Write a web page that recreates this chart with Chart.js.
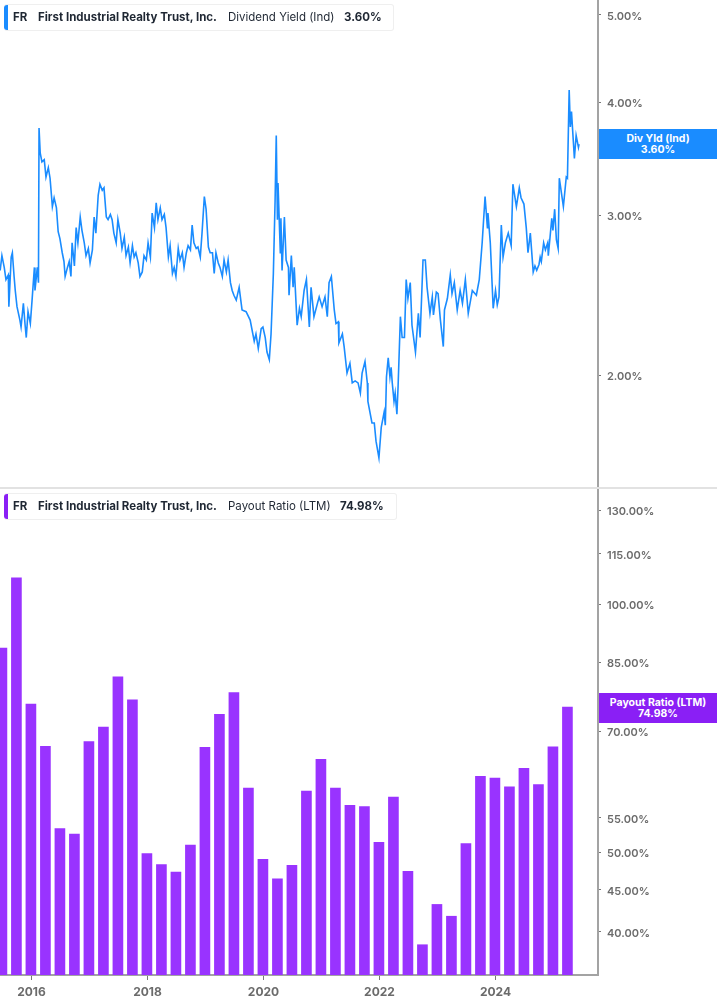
<!DOCTYPE html>
<html>
<head>
<meta charset="utf-8">
<title>FR Dividend Yield and Payout Ratio</title>
<script src="https://cdn.jsdelivr.net/npm/chart.js@4"></script>
<style>
html, body { margin: 0; padding: 0; background: #fff; }
body { width: 717px; height: 1005px; position: relative; overflow: hidden; font-family: Inter, "Noto Sans", sans-serif; }
canvas { position: absolute; left: 0; }
#divCanvas { top: 0; }
#payCanvas { top: 489px; }
#divider { position: absolute; left: 0; top: 487px; width: 717px; height: 2px; background: #e2e2e2; }
.chip { position: absolute; left: 4px; height: 25px; background: #fff; border: 1px solid #efefef; border-left: 0; border-radius: 3px; font-size: 11.5px; line-height: 25px; color: #1f2733; }
.chip i { position: absolute; left: 0; top: 0; width: 4px; height: 25px; border-radius: 3px 0 0 3px; }
.chip span { position: absolute; top: 0; white-space: nowrap; }
.chip b { font-weight: 700; }
.flag { position: absolute; left: 599px; width: 118px; height: 30px; color: #fff; font-size: 10.5px; font-weight: 700; line-height: 11.5px; text-align: center; padding-top: 3.5px; box-sizing: border-box; }
</style>
</head>
<body>
<canvas id="divCanvas" width="717" height="487"></canvas>
<div id="divider"></div>
<canvas id="payCanvas" width="717" height="516"></canvas>

<div class="chip" style="top:4px;width:389px"><i style="background:#1a8cff"></i>
  <span style="left:9px"><b>FR</b></span>
  <span style="left:34px"><b>First Industrial Realty Trust, Inc.</b></span>
  <span style="left:224px">Dividend Yield (Ind)</span>
  <span style="left:340px"><b>3.60%</b></span>
</div>
<div class="chip" style="top:493px;width:392px"><i style="background:#8a1ff5"></i>
  <span style="left:9px"><b>FR</b></span>
  <span style="left:34px"><b>First Industrial Realty Trust, Inc.</b></span>
  <span style="left:224px">Payout Ratio (LTM)</span>
  <span style="left:336px"><b>74.98%</b></span>
</div>
<div class="flag" style="top:129px;background:#1a8cff">Div Yld (Ind)<br>3.60%</div>
<div class="flag" style="top:693px;background:#8a1ff5">Payout Ratio (LTM)<br>74.98%</div>

<script>
// Dividend yield readings (decimal year, percent)
const yieldDates = [
  2015.46,2015.49,2015.53,2015.56,2015.60,2015.61,2015.65,2015.67,2015.70,2015.72,2015.75,2015.80,2015.82,2015.86,2015.89,2015.91,2015.94,2015.98,
  2016.01,2016.05,2016.06,2016.10,2016.12,2016.13,2016.15,2016.18,2016.22,2016.25,2016.29,2016.32,2016.36,2016.39,2016.43,2016.46,2016.49,2016.53,2016.56,2016.58,2016.62,2016.65,2016.68,2016.70,2016.74,2016.77,2016.80,2016.84,2016.87,2016.91,2016.94,2016.98,
  2017.01,2017.05,2017.08,2017.11,2017.15,2017.18,2017.22,2017.25,2017.29,2017.32,2017.36,2017.39,2017.42,2017.46,2017.49,2017.53,2017.56,2017.60,2017.63,2017.67,2017.70,2017.74,2017.77,2017.80,2017.84,2017.87,2017.91,2017.94,2017.98,
  2018.01,2018.05,2018.08,2018.12,2018.15,2018.18,2018.22,2018.25,2018.29,2018.32,2018.36,2018.39,2018.43,2018.46,2018.49,2018.53,2018.56,2018.60,2018.63,2018.67,2018.70,2018.74,2018.77,2018.80,2018.84,2018.87,2018.91,2018.94,2018.98,
  2019.01,2019.05,2019.08,2019.12,2019.15,2019.18,2019.22,2019.25,2019.29,2019.32,2019.36,2019.39,2019.43,2019.46,2019.49,2019.53,2019.58,2019.63,2019.70,2019.77,2019.84,2019.87,2019.91,2019.96,2019.99,
  2020.03,2020.06,2020.10,2020.13,2020.17,2020.20,2020.22,2020.24,2020.25,2020.29,2020.30,2020.32,2020.36,2020.39,2020.43,2020.44,2020.48,2020.51,2020.53,2020.58,2020.62,2020.65,2020.70,2020.74,2020.79,2020.82,2020.87,2020.93,2020.96,
  2021.01,2021.06,2021.10,2021.13,2021.17,2021.22,2021.25,2021.29,2021.30,2021.36,2021.39,2021.44,2021.49,2021.53,2021.58,2021.63,2021.67,2021.70,2021.75,2021.79,2021.80,2021.87,2021.91,2021.94,2021.99,
  2022.03,2022.08,2022.10,2022.12,2022.15,2022.18,2022.20,2022.22,2022.25,2022.27,2022.30,2022.32,2022.36,2022.39,2022.43,2022.46,2022.49,2022.53,2022.56,2022.62,2022.67,2022.70,2022.75,2022.79,2022.82,2022.87,2022.91,2022.93,2022.98,
  2023.01,2023.05,2023.10,2023.12,2023.17,2023.22,2023.25,2023.29,2023.34,2023.39,2023.43,2023.48,2023.53,2023.60,2023.67,2023.72,2023.77,2023.82,2023.86,2023.87,2023.91,2023.96,
  2024.00,2024.03,2024.06,2024.10,2024.13,2024.17,2024.22,2024.27,2024.30,2024.36,2024.41,2024.44,2024.49,2024.53,2024.56,2024.60,2024.65,2024.68,2024.71,2024.75,2024.77,2024.79,2024.83,2024.86,2024.90,2024.91,2024.94,2024.97,2024.99,
  2025.02,2025.05,2025.08,2025.10,2025.17,2025.22,2025.24,2025.27,2025.29,2025.31,2025.34,2025.36,2025.39,2025.43,2025.44
];
const yieldValues = [
  2.61,2.71,2.63,2.55,2.58,2.38,2.70,2.73,2.57,2.48,2.38,2.30,2.26,2.40,2.27,2.20,2.35,2.28,
  2.42,2.63,2.48,2.63,2.53,3.75,3.52,3.44,3.46,3.31,3.39,3.30,3.07,3.14,3.06,2.88,2.83,2.73,2.67,2.57,2.63,2.67,2.57,2.80,2.64,2.91,2.80,2.99,2.89,2.80,2.71,2.76,
  2.66,2.75,2.99,2.87,3.16,3.25,3.20,3.22,2.99,2.97,3.01,2.97,2.87,2.80,2.97,2.87,2.76,2.84,2.71,2.77,2.66,2.78,2.70,2.73,2.66,2.57,2.60,2.71,2.68,
  2.80,2.70,3.02,2.91,3.10,2.97,3.06,2.97,3.01,2.91,2.70,2.78,2.59,2.63,2.57,2.76,2.68,2.73,2.63,2.73,2.78,2.75,2.93,2.80,2.76,2.77,2.70,2.87,3.15,
  3.05,2.77,2.73,2.73,2.59,2.73,2.66,2.63,2.57,2.68,2.60,2.68,2.53,2.48,2.45,2.42,2.50,2.36,2.35,2.30,2.18,2.22,2.14,2.25,2.26,
  2.20,2.12,2.08,2.22,2.59,3.12,3.68,2.97,3.26,2.73,2.98,2.61,2.99,2.68,2.63,2.45,2.71,2.50,2.63,2.27,2.37,2.32,2.48,2.55,2.26,2.50,2.32,2.40,2.44,
  2.38,2.44,2.32,2.53,2.57,2.36,2.28,2.29,2.17,2.22,2.15,2.01,2.06,1.96,1.97,1.96,1.91,2.01,2.07,1.96,1.87,1.77,1.77,1.69,1.62,
  1.75,1.82,1.76,1.99,2.09,1.99,2.04,1.96,1.87,1.91,1.81,1.94,2.32,2.20,2.20,2.55,2.43,2.53,2.27,2.12,2.34,2.20,2.68,2.68,2.50,2.34,2.44,2.33,2.47,
  2.46,2.30,2.15,2.36,2.43,2.58,2.46,2.53,2.36,2.48,2.40,2.55,2.34,2.48,2.45,2.55,2.80,3.15,2.91,3.02,2.80,2.37,
  2.48,2.39,2.44,2.93,2.70,2.80,2.87,2.78,3.25,3.07,3.22,3.14,3.09,2.91,2.73,2.87,2.60,2.64,2.61,2.65,2.70,2.67,2.80,2.75,2.80,2.71,2.84,2.98,2.89,
  3.05,2.82,2.76,3.30,3.07,3.31,3.30,4.13,3.76,3.91,3.64,3.47,3.68,3.57,3.60
];
const yieldTicks = [2, 3, 4, 5];

// Payout ratio by quarter (decimal year, percent)
const payoutDates = [
  2015.49,2015.74,2015.99,2016.24,2016.49,2016.74,2016.99,2017.24,2017.49,2017.74,
  2017.99,2018.24,2018.49,2018.74,2018.99,2019.24,2019.49,2019.74,2019.99,2020.24,
  2020.49,2020.74,2020.99,2021.24,2021.49,2021.74,2021.99,2022.24,2022.49,2022.74,
  2022.99,2023.24,2023.49,2023.74,2023.99,2024.24,2024.49,2024.74,2024.99,2025.24
];
const payoutValues = [
  88.4,107.6,75.6,67.2,53.4,52.6,68.1,70.9,81.6,76.5,
  49.8,48.3,47.3,51.0,67.0,73.5,78.1,59.8,49.0,46.4,
  48.2,59.3,64.8,59.8,57.0,56.8,51.4,58.3,47.4,38.6,
  43.2,41.8,51.2,61.8,61.5,60.0,63.2,60.4,67.1,74.98
];
const payoutTicks = [40, 45, 50, 55, 70, 85, 100, 115, 130];
const yearTicks = [2016, 2018, 2020, 2022, 2024];

const xMin = 2015.457, xMax = 2025.767;
const axisColor = "#a3a3a3";
const labelColor = "#6b6b6b";
const axisFont = { family: "Inter", size: 11, weight: "600" };

// Tick labels must not shrink the plot, both panels run to the canvas edge
function noPadding(axis) {
    axis.paddingTop = 0;
    axis.paddingBottom = 0;
    axis.paddingLeft = 0;
    axis.paddingRight = 0;
}

function yAxis(min, max, tickList) {
    return {
        type: "logarithmic",
        position: "right",
        min: min,
        max: max,
        afterBuildTicks: axis => { axis.ticks = tickList.map(v => ({ value: v })); },
        afterFit: axis => { axis.width = 119; noPadding(axis); },
        border: { color: axisColor, width: 2 },
        grid: { drawOnChartArea: false, tickLength: 3, tickColor: "#777" },
        ticks: {
            padding: 6,
            labelOffset: 1.5,
            autoSkip: false,
            maxRotation: 0,
            color: labelColor,
            font: axisFont,
            callback: v => v.toFixed(2) + "%"
        }
    };
}

const baseOptions = {
    responsive: false,
    animation: false,
    layout: { padding: 0 },
    plugins: { legend: { display: false }, tooltip: { enabled: false } }
};

new Chart(document.getElementById("divCanvas").getContext("2d"), {
    type: "line",
    data: {
        datasets: [{
            data: yieldDates.map((d, i) => ({ x: d, y: yieldValues[i] })),
            borderColor: "#1a8cff",
            borderWidth: 1.6,
            pointRadius: 0,
            tension: 0
        }]
    },
    options: {
        ...baseOptions,
        scales: {
            x: { type: "linear", min: xMin, max: xMax, display: false },
            y: yAxis(1.504, 5.194, yieldTicks)
        }
    }
});

new Chart(document.getElementById("payCanvas").getContext("2d"), {
    type: "bar",
    data: {
        datasets: [{
            data: payoutDates.map((d, i) => ({ x: d, y: payoutValues[i] })),
            backgroundColor: "#9933ff",
            barThickness: 10
        }]
    },
    options: {
        ...baseOptions,
        scales: {
            x: {
                type: "linear",
                offset: false,
                min: xMin,
                max: xMax,
                afterBuildTicks: axis => { axis.ticks = yearTicks.map(v => ({ value: v })); },
                afterFit: axis => { axis.height = 30; noPadding(axis); },
                border: { color: axisColor, width: 2 },
                grid: { offset: false, drawOnChartArea: false, tickLength: 5, tickColor: "#777" },
                ticks: {
                    padding: 5,
                    color: labelColor,
                    font: { family: "Inter", size: 12, weight: "700" },
                    callback: v => String(v)
                }
            },
            y: yAxis(35.47, 137.9, payoutTicks)
        }
    }
});
</script>
</body>
</html>
